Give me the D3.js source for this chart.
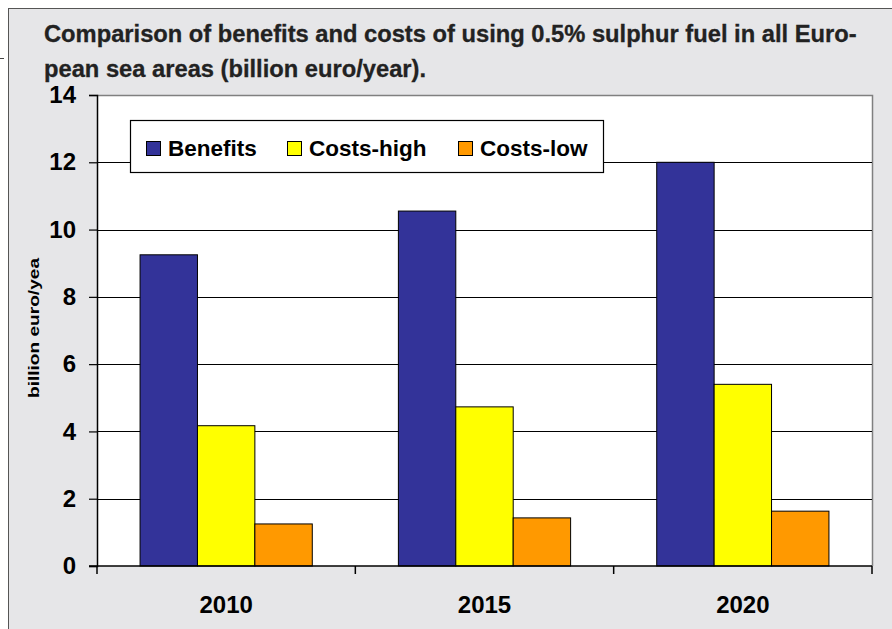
<!DOCTYPE html>
<html>
<head>
<meta charset="utf-8">
<script src="https://cdn.jsdelivr.net/npm/d3@7"></script>
<style>
  html, body { margin: 0; padding: 0; background: #ffffff; }
  svg { display: block; font-family: "Liberation Sans", Arial, sans-serif; }
</style>
</head>
<body>
<svg id="chart" width="892" height="629"></svg>
<script>
const categories = ["2010", "2015", "2020"];
const seriesNames = ["Benefits", "Costs-high", "Costs-low"];
const benefits = [9.25, 10.55, 12.0];
const costsHigh = [4.17, 4.73, 5.4];
const costsLow = [1.25, 1.43, 1.63];
const yTicks = [0, 2, 4, 6, 8, 10, 12, 14];
const titleLines = ["Comparison of benefits and costs of using 0.5% sulphur fuel in all Euro-",
                    "pean sea areas (billion euro/year)."];
const yTitle = "billion euro/yea";
const colors = ["#333399", "#FFFF00", "#FF9900"];

(function () {
const seriesValues = [benefits, costsHigh, costsLow];
const svg = d3.select("#chart");

// panel
svg.append("rect").attr("x", 8.5).attr("y", 8.5).attr("width", 900).attr("height", 640)
  .attr("fill", "#e6e6e8").attr("stroke", "#555").attr("stroke-width", 1);
svg.append("line").attr("x1", 0).attr("x2", 4).attr("y1", 58.5).attr("y2", 58.5)
  .attr("stroke", "#444").attr("stroke-width", 1);

// title
const title = svg.append("g");
titleLines.forEach((t, i) => {
  title.append("text").attr("x", 44).attr("y", 42 + i * 35)
    .attr("font-size", 20).attr("font-weight", "bold").attr("fill", "#222")
    .attr("stroke", "#222").attr("stroke-width", 0.3).text(t);
});
const firstLen = title.select("text").node().getComputedTextLength();
const fs = 20 * 813 / firstLen;
title.selectAll("text").attr("font-size", fs);

const pLeft = 97, pRight = 872, pTop = 95, pBottom = 566;
const y = d3.scaleLinear().domain([0, 14]).range([pBottom, pTop]);
const x0 = d3.scaleBand().domain(categories).range([pLeft, pRight]).padding(0);
const x1 = d3.scaleBand().domain(seriesNames).range([0, x0.bandwidth()]).paddingInner(0).paddingOuter(0.75);

// plot area
svg.append("rect").attr("x", pLeft).attr("y", pTop).attr("width", pRight - pLeft).attr("height", pBottom - pTop)
  .attr("fill", "#fff");
svg.append("path").attr("d", `M${pLeft},${pTop + 0.5}H${pRight + 0.5}V${pBottom}`)
  .attr("fill", "none").attr("stroke", "#808080").attr("stroke-width", 1.5);

// gridlines
svg.append("g").selectAll("line").data(yTicks.filter(d => d > 0 && d < 14)).join("line")
  .attr("x1", pLeft).attr("x2", pRight)
  .attr("y1", d => Math.round(y(d)) + 0.5).attr("y2", d => Math.round(y(d)) + 0.5)
  .attr("stroke", "#000").attr("stroke-width", 1);

// bars
const groups = svg.append("g").selectAll("g").data(categories).join("g")
  .attr("transform", d => `translate(${x0(d)},0)`);
groups.selectAll("rect").data((c, ci) => seriesNames.map((s, si) => ({s, si, v: seriesValues[si][ci]})))
  .join("rect")
  .attr("x", d => x1(d.s)).attr("width", x1.bandwidth())
  .attr("y", d => y(d.v)).attr("height", d => y(0) - y(d.v))
  .attr("fill", d => colors[d.si]).attr("stroke", "#000").attr("stroke-width", 1);

// y axis
const yAxis = d3.axisLeft(y).tickValues(yTicks).tickSize(8).tickPadding(13).tickFormat(d3.format("d"));
const gy = svg.append("g").attr("transform", `translate(${pLeft},0)`).call(yAxis);
gy.select(".domain").attr("stroke", "#000").attr("stroke-width", 1.5);
gy.selectAll(".tick line").attr("stroke", "#000").attr("stroke-width", 1.2);
gy.selectAll(".tick text").attr("font-size", 24).attr("font-weight", "bold").attr("fill", "#000")
  .attr("font-family", "Liberation Sans, Arial, sans-serif");

// x axis
const gx = svg.append("g").attr("transform", `translate(0,${pBottom})`);
gx.append("line").attr("x1", pLeft - 8).attr("x2", pRight).attr("y1", 0).attr("y2", 0)
  .attr("stroke", "#000").attr("stroke-width", 1.5);
const bounds = categories.map(c => x0(c)).concat([x0(categories[categories.length - 1]) + x0.bandwidth()]);
gx.selectAll("line.tk").data(bounds).join("line").attr("class", "tk")
  .attr("x1", d => d).attr("x2", d => d).attr("y1", 0).attr("y2", 8)
  .attr("stroke", "#000").attr("stroke-width", 1.5);
gx.selectAll("text").data(categories).join("text")
  .attr("x", d => x0(d) + x0.bandwidth() / 2).attr("y", 47)
  .attr("text-anchor", "middle").attr("font-size", 24).attr("font-weight", "bold").text(d => d);

// y title
svg.append("text").attr("transform", "translate(39,328) rotate(-90)")
  .attr("text-anchor", "middle").attr("font-size", 15).attr("font-weight", "bold")
  .attr("textLength", 140).attr("lengthAdjust", "spacingAndGlyphs").text(yTitle);

// legend
const lg = svg.append("g");
lg.append("rect").attr("x", 130.5).attr("y", 120.5).attr("width", 473).attr("height", 52)
  .attr("fill", "#fff").attr("stroke", "#000").attr("stroke-width", 1.2);
const legX = [146, 287, 458];
seriesNames.forEach((s, i) => {
  lg.append("rect").attr("x", legX[i] + 0.5).attr("y", 141.5).attr("width", 14).attr("height", 14)
    .attr("fill", colors[i]).attr("stroke", "#000").attr("stroke-width", 1);
  lg.append("text").attr("x", legX[i] + 22).attr("y", 156).attr("font-size", 22.5)
    .attr("font-weight", "bold").text(s);
});
})();
</script>
</body>
</html>
